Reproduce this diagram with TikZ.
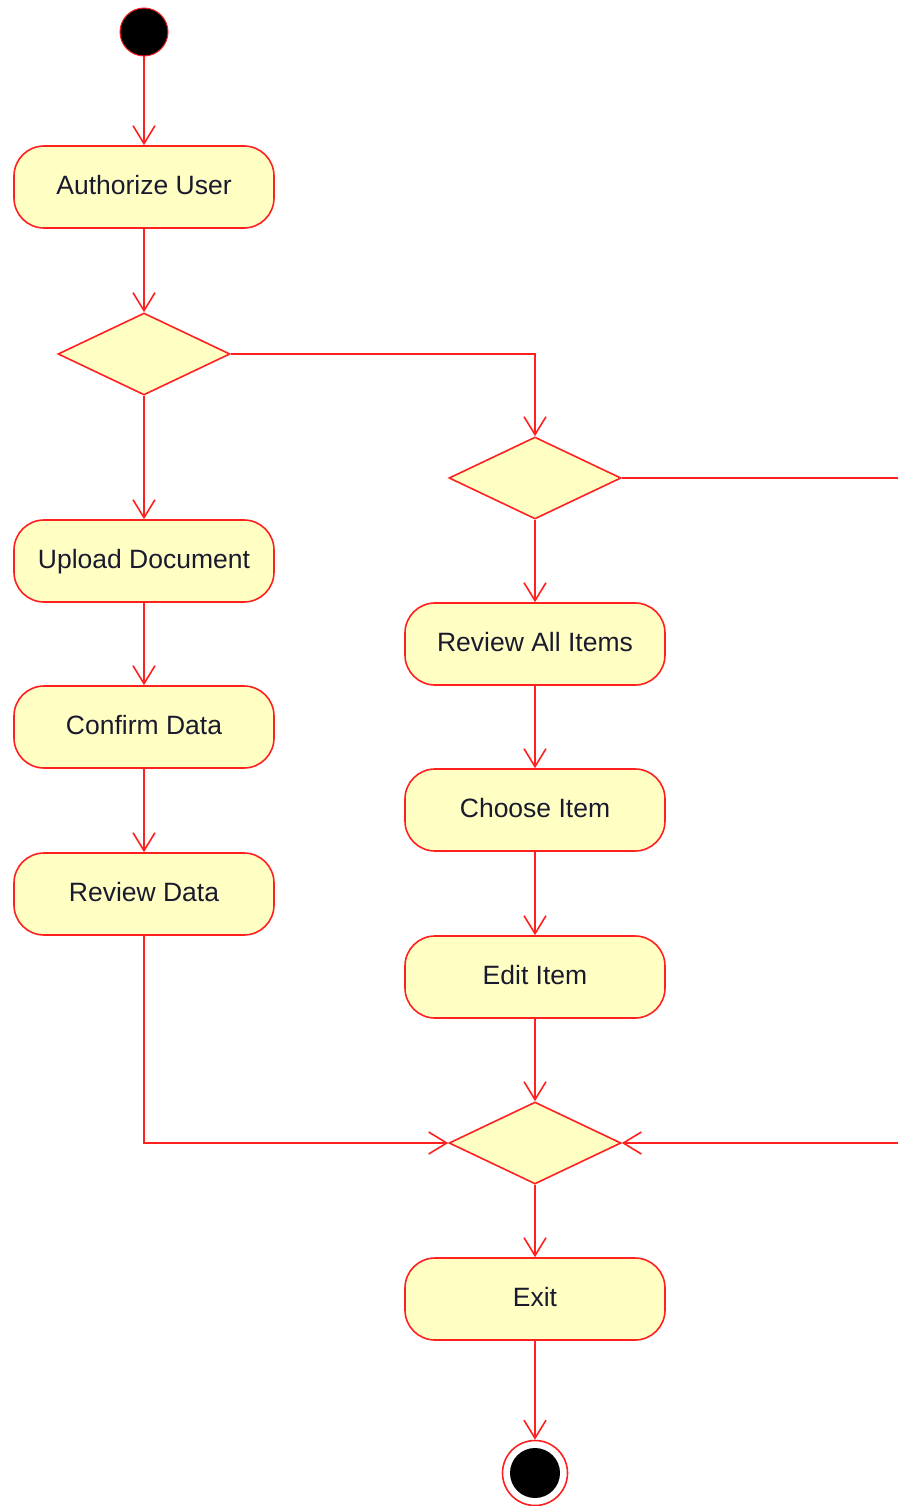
\documentclass[tikz,border=0pt]{standalone}
\usepackage{fontspec}
\setmainfont{Liberation Sans}
\usetikzlibrary{arrows.meta,shapes.geometric}
\definecolor{umlred}{HTML}{FF2020}
\definecolor{umlfill}{HTML}{FFFFC4}
\definecolor{umltext}{HTML}{1A1A2E}
\tikzset{
  flow/.style={draw=umlred, line width=1.6pt, -{Straight Barb[length=18pt,width=22pt,line width=1.6pt]}},
  line/.style={draw=umlred, line width=1.6pt},
  action/.style={draw=umlred, line width=1.6pt, fill=umlfill, rounded corners=30pt,
    minimum width=260pt, minimum height=82pt, inner sep=0pt, text=umltext,
    font=\fontsize{26.5}{30}\selectfont, text depth=0pt, text height=15pt},
  decision/.style={draw=umlred, line width=1.6pt, fill=umlfill, diamond, aspect=2.1,
    minimum width=172pt, minimum height=82pt, inner sep=0pt},
  startnode/.style={circle, fill=black, draw=umlred, line width=1pt, minimum size=48pt, inner sep=0pt},
}
\begin{document}
\begin{tikzpicture}[x=1pt,y=-1pt]
  \useasboundingbox (0,0) rectangle (898,1506);
  % initial and final states
  \node[startnode] (start) at (144,32) {};
  \node[circle, draw=umlred, line width=1.6pt, fill=white, minimum size=65pt, inner sep=0pt] (stop) at (535,1473) {};
  \node[circle, fill=black, minimum size=50pt, inner sep=0pt] (stopdot) at (535,1473) {};
  % actions
  \node[action] (auth) at (144,187) {Authorize User};
  \node[action] (upload) at (144,561) {Upload Document};
  \node[action] (confirm) at (144,727) {Confirm Data};
  \node[action] (review) at (144,894) {Review Data};
  \node[action] (all) at (535,644) {Review All Items};
  \node[action] (choose) at (535,810) {Choose Item};
  \node[action] (edit) at (535,977) {Edit Item};
  \node[action] (exit) at (535,1299) {Exit};
  % decisions
  \node[decision] (d1) at (144,354) {};
  \node[decision] (d2) at (535,478) {};
  \node[decision] (d3) at (535,1143) {};
  % loose ends at the right border
  \coordinate (outA) at (898,478);
  \coordinate (outB) at (898,1143);
  % flows
  \draw[flow] (start) -- (auth);
  \draw[flow] (auth) -- (d1);
  \draw[flow] (d1) -- (upload);
  \draw[flow] (d1.east) -| (d2.north);
  \draw[line] (d2.east) -- (outA);
  \draw[flow] (d2) -- (all);
  \draw[flow] (upload) -- (confirm);
  \draw[flow] (confirm) -- (review);
  \draw[flow] (all) -- (choose);
  \draw[flow] (choose) -- (edit);
  \draw[flow] (edit.south) -- (d3.north);
  \draw[flow] (review.south) |- (d3.west);
  \draw[flow] (outB) -- (d3.east);
  \draw[flow] (d3) -- (exit);
  \draw[flow] (exit) -- (stop);
\end{tikzpicture}
\end{document}
